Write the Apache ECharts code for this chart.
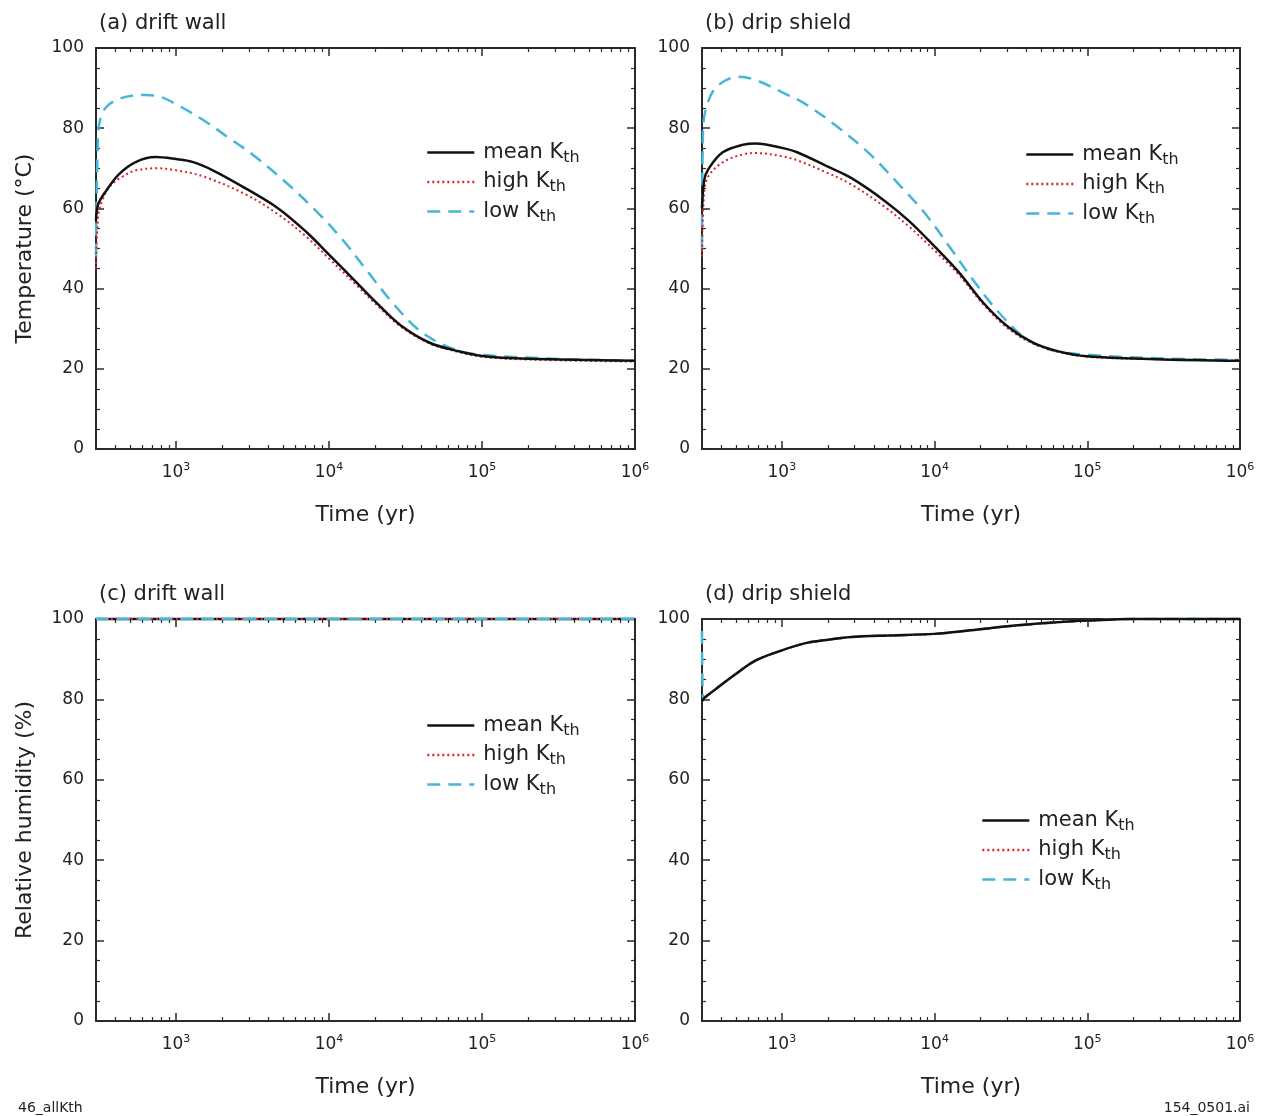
<!DOCTYPE html>
<html><head><meta charset="utf-8">
<script src="https://cdn.jsdelivr.net/npm/echarts@6/dist/echarts.min.js"></script>
<style>html,body{margin:0;padding:0;background:#fff}#c{width:1267px;height:1116px}</style>
</head><body><div id="c"></div>
<script>
// ---------- data ----------
const seriesNames = ['mean', 'high', 'low'];
const panelTitles = ['(a) drift wall', '(b) drip shield', '(c) drift wall', '(d) drip shield'];
const xMajorTicks = [1e3, 1e4, 1e5, 1e6];
const xMinorTicks = [400,500,600,700,800,900,2000,3000,4000,5000,6000,7000,8000,9000,
  20000,30000,40000,50000,60000,70000,80000,90000,200000,300000,400000,500000,600000,700000,800000,900000];

// (a) drift wall temperature
const aT_mean = [300,310,351,423,541,735,1000,1280,1740,2850,4660,7170,10000,15000,20400,29500,45500,70000,100000,200000,1000000];
const aV_mean = [57,61,64.5,68.5,71.5,72.8,72.3,71.6,69.5,65,60,54,48.5,41.7,36.5,30.8,26.5,24.4,23.2,22.5,22];
const aT_high = [300,310,330,370,450,550,750,1000,1500,2850,4660,7170,10000,15000,20400,29500,45500,70000,100000,200000,1000000];
const aV_high = [45,58,62,65.5,68,69.5,70,69.5,68,63.5,58.5,52.8,47.5,41,36,30.5,26.3,24.2,23,22.3,21.8];
const aT_low = [300,309,324,355,417,537,630,794,1000,1540,2230,3220,5260,8620,12500,18000,26100,37800,54700,79400,115000,300000,1000000];
const aV_low = [48,78,83,85.5,87.2,88.2,88.3,87.8,86,81.8,77.5,73.2,66.4,58.6,51.8,44.1,36.4,30,26.1,24,23.3,22.5,22];

// (b) drip shield temperature
const bT_mean = [300,310,330,410,560,676,1000,1260,1950,2840,4670,6790,10000,14400,20900,30400,44100,63700,100000,280000,1000000];
const bV_mean = [60,67,69.8,74,75.9,76.2,75.1,74,70.6,67.6,62,56.9,50.5,44.1,36.4,30.4,26.5,24.4,23.1,22.4,22];
const bT_high = [300,310,330,410,560,676,1000,1260,1950,2840,4670,6790,10000,14400,20900,30400,44100,63700,100000,280000,1000000];
const bV_high = [48,64,68,71.5,73.5,73.8,73,72,69,66,60.5,55.5,49.5,43.5,36,30,26.3,24.3,23,22.4,22];
const bT_low = [300,305,340,410,525,676,1000,1430,2210,3640,6000,8720,12700,18400,26700,38800,56400,100000,300000,1000000];
const bV_low = [50,80,88,91.5,92.8,92,89,86,80.9,74.1,65.5,58.6,50.1,41.5,33.8,27.8,24.8,23.5,22.6,22.2];

// (c) drift wall relative humidity
const cT = [300,1000,10000,100000,1000000];
const cV_mean = [100,100,100,100,100];
const cV_high = [100,100,100,100,100];
const cV_low = [100,100,100,100,100];

// (d) drip shield relative humidity
const dT = [300,310,361,494,676,1000,1430,1950,2840,4970,10000,17300,32300,60000,100000,200000,1000000];
const dV_mean = [79.5,80.3,82.3,86.2,89.7,92.2,94,94.8,95.5,95.9,96.3,97.2,98.3,99.1,99.6,100,100];
const dV_high = [79.5,80.3,82.3,86.2,89.7,92.2,94,94.8,95.5,95.9,96.3,97.2,98.3,99.1,99.6,100,100];
const dT_low = [300,306,361,494,676,1000,1430,1950,2840,4970,10000,17300,32300,60000,100000,200000,1000000];
const dV_low = [97,80.3,82.3,86.2,89.7,92.2,94,94.8,95.5,95.9,96.3,97.2,98.3,99.1,99.6,100,100];

// ---------- build ----------
const FONT = '"DejaVu Sans", "Liberation Sans", Arial, sans-serif';
const TXT = '#222';
const AX = '#2a2a2a';
const zip = (t, v) => t.map((x, i) => [x, v[i]]);

const panels = [
  {grid:{left:96, top:48, width:539, height:401}, yName:'Temperature (\u00B0C)', zOrder:[10,9,8],
   data:[zip(aT_mean,aV_mean), zip(aT_high,aV_high), zip(aT_low,aV_low)], legend:{left:421, top:137}},
  {grid:{left:702, top:48, width:538, height:401}, yName:'', zOrder:[10,9,8],
   data:[zip(bT_mean,bV_mean), zip(bT_high,bV_high), zip(bT_low,bV_low)], legend:{left:1020, top:139}},
  {grid:{left:96, top:619, width:539, height:402}, yName:'Relative humidity (%)', zOrder:[8,9,10],
   data:[zip(cT,cV_mean), zip(cT,cV_high), zip(cT,cV_low)], legend:{left:421, top:710}},
  {grid:{left:702, top:619, width:538, height:402}, yName:'', zOrder:[10,9,8],
   data:[zip(dT,dV_mean), zip(dT,dV_high), zip(dT_low,dV_low)], legend:{left:976, top:805}}
];

const styles = {
  mean: {color:'#111111', width:2.5, type:'solid'},
  high: {color:'#d8262a', width:2, type:[2,3]},
  low:  {color:'#46b6d6', width:2.5, type:[13,8]}
};

const grids = [], xAxes = [], yAxes = [], series = [], legends = [], titles = [];

panels.forEach((p, g) => {
  grids.push(Object.assign({containLabel:false}, p.grid));
  const xBase = {type:'log', logBase:10, min:300, max:1e6, gridIndex:g, splitLine:{show:false}};
  xAxes.push(Object.assign({}, xBase, {
    position:'bottom',
    name:'Time (yr)', nameLocation:'middle', nameGap:55,
    nameTextStyle:{fontFamily:FONT, fontSize:22, color:TXT},
    axisLine:{show:true, onZero:false, lineStyle:{color:AX, width:2}},
    axisTick:{show:true, inside:true, length:8, customValues:xMajorTicks, lineStyle:{color:AX, width:1.5}},
    axisLabel:{show:true, customValues:xMajorTicks, margin:13, color:TXT,
      formatter: v => '{b|10}{s|' + Math.round(Math.log10(v)) + '}',
      rich:{b:{fontFamily:FONT, fontSize:17, lineHeight:21, color:TXT}, s:{fontFamily:FONT, fontSize:11, lineHeight:12, verticalAlign:'top', color:TXT}}}
  }));
  xAxes.push(Object.assign({}, xBase, {
    position:'bottom', axisLine:{show:false, onZero:false}, axisLabel:{show:false},
    axisTick:{show:true, inside:true, length:4, customValues:xMinorTicks, lineStyle:{color:AX, width:1.2}}
  }));
  xAxes.push(Object.assign({}, xBase, {
    position:'top', axisLine:{show:true, onZero:false, lineStyle:{color:AX, width:2}}, axisLabel:{show:false},
    axisTick:{show:true, inside:true, length:8, customValues:xMajorTicks, lineStyle:{color:AX, width:1.5}}
  }));
  xAxes.push(Object.assign({}, xBase, {
    position:'top', axisLine:{show:false, onZero:false}, axisLabel:{show:false},
    axisTick:{show:true, inside:true, length:4, customValues:xMinorTicks, lineStyle:{color:AX, width:1.2}}
  }));
  const yBase = {type:'value', min:0, max:100, interval:20, gridIndex:g, splitLine:{show:false},
    axisLine:{show:true, onZero:false, lineStyle:{color:AX, width:2}},
    axisTick:{show:true, inside:true, length:8, lineStyle:{color:AX, width:1.5}},
    minorTick:{show:true, splitNumber:4, length:4, lineStyle:{color:AX, width:1.2}}};
  yAxes.push(Object.assign({}, yBase, {
    position:'left', name:p.yName, nameLocation:'middle', nameGap:60, nameRotate:90,
    nameTextStyle:{fontFamily:FONT, fontSize:22, color:TXT},
    axisLabel:{show:true, margin:12, fontFamily:FONT, fontSize:17, color:TXT}
  }));
  yAxes.push(Object.assign({}, yBase, {position:'right', axisLabel:{show:false}}));

  seriesNames.forEach((nm, k) => {
    const st = styles[nm];
    series.push({
      type:'line', name:nm, xAxisIndex:g*4, yAxisIndex:g*2,
      data:p.data[k], showSymbol:false, symbol:'none', smooth:0.35, clip:false,
      lineStyle:{color:st.color, width:st.width, type:st.type},
      itemStyle:{color:st.color}, z:p.zOrder[k], animation:false
    });
  });

  legends.push({
    left:p.legend.left, top:p.legend.top, orient:'vertical', selectedMode:false,
    data:seriesNames, itemWidth:47, itemHeight:14, itemGap:6,
    itemStyle:{color:'rgba(0,0,0,0)', borderColor:'rgba(0,0,0,0)', borderWidth:0},
    lineStyle:{width:2.6},
    formatter: n => '{n|' + n + ' K}{s|th}',
    textStyle:{rich:{
      n:{fontFamily:FONT, fontSize:21, lineHeight:26, color:TXT, padding:[0,0,0,4]},
      s:{fontFamily:FONT, fontSize:16, lineHeight:14, verticalAlign:'bottom', color:TXT}
    }}
  });

  titles.push({text:panelTitles[g], left:p.grid.left - 2, top:p.grid.top - 40,
    textStyle:{fontFamily:FONT, fontSize:21, fontWeight:'normal', color:TXT}});
});

titles.push({text:'46_allKth', left:13, top:1096, textStyle:{fontFamily:FONT, fontSize:14, fontWeight:'normal', color:TXT}});
titles.push({text:'154_0501.ai', right:12, top:1096, textStyle:{fontFamily:FONT, fontSize:14, fontWeight:'normal', color:TXT}});

const chart = echarts.init(document.getElementById('c'), null, {renderer:'canvas'});
chart.setOption({
  animation:false,
  backgroundColor:'#ffffff',
  title:titles,
  grid:grids, xAxis:xAxes, yAxis:yAxes, legend:legends, series:series
});
</script></body></html>
